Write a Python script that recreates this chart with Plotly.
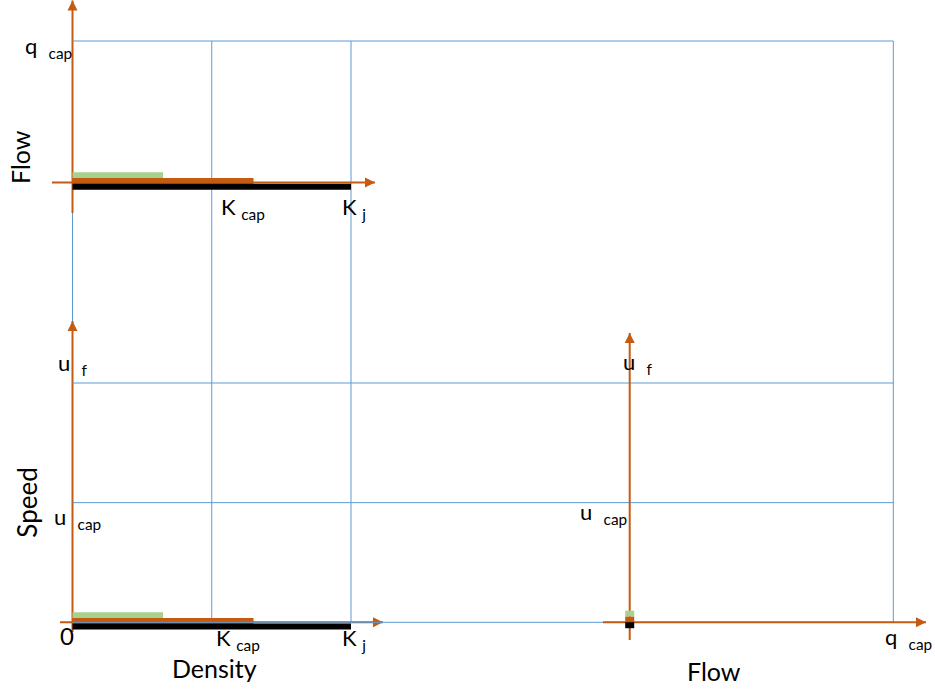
import plotly.graph_objects as go

# ---------------- data (fundamental diagram, normalised units) ----------------
K_j = 1.0          # jam density
K_cap = 0.5        # density at capacity
q_cap = 1.0        # capacity flow
u_f = 1.0          # free-flow speed
u_cap = 0.5        # speed at capacity

bar_colors = ["#A9D18E", "#C55A11", "#000000"]          # green, orange, black
bar_density_len = [0.325, 0.65, 1.0]                     # lengths along density axis
bar_flow_len = [0.0, 0.0, 0.0]                           # lengths along flow axis (right panel)

# ---------------- layout (pixel geometry of the three panels) ----------------
W, H = 935, 691
DENS_X0, DENS_S = 72.5, 278.5      # density axis: origin px, px per unit
FLOWV_Y0, FLOWV_S = 182.5, 141.5   # vertical flow axis (top-left panel)
SPEED_Y0, SPEED_S = 622.3, 239.3   # speed axis (bottom panels)
FLOWH_X0, FLOWH_S = 629.7, 263.6   # horizontal flow axis (bottom-right panel)

BLUE = "#5B9BD5"
ORANGE = "#C55A11"
FONT = "Lato"


def px_dens(v): return DENS_X0 + v * DENS_S
def dens_px(p): return (p - DENS_X0) / DENS_S
def py_flow(v): return FLOWV_Y0 - v * FLOWV_S
def flow_py(p): return (FLOWV_Y0 - p) / FLOWV_S
def py_speed(v): return SPEED_Y0 - v * SPEED_S
def speed_py(p): return (SPEED_Y0 - p) / SPEED_S
def px_flowh(v): return FLOWH_X0 + v * FLOWH_S
def flowh_px(p): return (p - FLOWH_X0) / FLOWH_S


fig = go.Figure()


def line(xs, ys, xa, ya, color, width):
    fig.add_trace(go.Scatter(x=xs, y=ys, xaxis=xa, yaxis=ya, mode="lines",
                             line=dict(color=color, width=width),
                             hoverinfo="skip", showlegend=False))


speed0_in_flow = flow_py(py_speed(0))           # speed origin expressed on flow axis
dens0_in_flowh = flowh_px(px_dens(0))           # density origin expressed on flow-h axis

# ---- blue guide lines ----
for k in [0.0, K_cap, K_j]:
    line([k, k], [q_cap, speed0_in_flow], "x", "y", BLUE, 1)
line([q_cap, q_cap], [q_cap, speed0_in_flow], "x2", "y", BLUE, 1)
line([dens0_in_flowh, q_cap], [q_cap, q_cap], "x2", "y", BLUE, 1)
for s in [u_f, u_cap, 0.0]:
    line([dens0_in_flowh, q_cap], [s, s], "x2", "y2", BLUE, 1)

# ---- orange axes with arrow heads ----
heads = []   # (x, y, xaxis, yaxis, symbol)


def axis_arrow(xs, ys, xa, ya, symbol):
    line(xs, ys, xa, ya, ORANGE, 2)
    heads.append((xs[1], ys[1], xa, ya, symbol))


# top-left: flow vs density
axis_arrow([0, 0], [flow_py(213), flow_py(0.5)], "x", "y", "arrow-up")
axis_arrow([dens_px(52), dens_px(375)], [0, 0], "x", "y", "arrow-right")
# bottom-left: speed vs density
axis_arrow([0, 0], [speed_py(632), speed_py(321)], "x", "y2", "arrow-up")
axis_arrow([dens_px(60), dens_px(383)], [0, 0], "x", "y2", "arrow-right")
# bottom-right: speed vs flow
axis_arrow([0, 0], [speed_py(640), speed_py(333)], "x2", "y2", "arrow-up")
axis_arrow([flowh_px(603), flowh_px(926)], [0, 0], "x2", "y2", "arrow-right")

for hx, hy, xa, ya, sym in heads:
    fig.add_trace(go.Scatter(x=[hx], y=[hy], xaxis=xa, yaxis=ya, mode="markers",
                             marker=dict(symbol=sym, size=10, color=ORANGE,
                                         line=dict(width=0)),
                             hoverinfo="skip", showlegend=False))

# ---- coloured bars ----
tl_offsets = [7.2, 1.5, -4.2]     # px above the axis (style)
bl_offsets = [7.0, 1.3, -4.3]
br_offsets = [8.6, 2.6, -2.9]
for c, L, o in zip(bar_colors, bar_density_len, tl_offsets):
    line([0, L], [flow_py(FLOWV_Y0 - o)] * 2, "x", "y", c, 6)
for c, L, o in zip(bar_colors, bar_density_len, bl_offsets):
    line([0, L], [speed_py(SPEED_Y0 - o)] * 2, "x", "y2", c, 6)
half = 4.5 / FLOWH_S
for c, L, o in zip(bar_colors, bar_flow_len, br_offsets):
    line([-half, L + half], [speed_py(SPEED_Y0 - o)] * 2, "x2", "y2", c, 6)

# ---- labels ----
annotations = []


def label(text, xa, ya, xv, yv, dx, dy, xanchor="left", yanchor="top", angle=0, size=22):
    annotations.append(dict(text=text, xref=xa, yref=ya, x=xv, y=yv, xshift=dx, yshift=-dy,
                            xanchor=xanchor, yanchor=yanchor, showarrow=False, textangle=angle,
                            font=dict(family=FONT, size=size, color="#000000")))


label("q&nbsp; <sub>cap</sub>", "x", "y", 0, q_cap, 1, 6, "right", "middle")
label("Flow", "x", "y", 0, 0, -53, -25, "center", "middle", angle=-90, size=25)
label("K <sub>cap</sub>", "x", "y", K_cap, 0, 7, 8)
label("K <sub>j</sub>", "x", "y", K_j, 0, -11, 8)

label("u&nbsp; <sub>f</sub>", "x", "y2", 0, u_f, -17, -36)
label("u&nbsp; <sub>cap</sub>", "x", "y2", 0, u_cap, -21, -2)
label("Speed", "x", "y2", 0, u_cap, -45.5, 0, "center", "middle", angle=-90, size=26)
label("0", "x", "y2", 0, 0, -15, -3, size=24)
label("K <sub>cap</sub>", "x", "y2", K_cap, 0, 2, 0)
label("K <sub>j</sub>", "x", "y2", K_j, 0, -11, 0)
label("Density", "x", "y2", K_cap, 0, 3, 46, "center", "middle", size=25)

label("u&nbsp; <sub>f</sub>", "x2", "y2", 0, u_f, -9, -37)
label("u&nbsp; <sub>cap</sub>", "x2", "y2", 0, u_cap, -52, -7)
label("q&nbsp; <sub>cap</sub>", "x2", "y2", q_cap, 0, -10, -1)
label("Flow", "x2", "y2", 0, 0, 84, 49, "center", "middle", size=25)


def ax_common(rng):
    return dict(range=rng, domain=[0, 1], visible=False, fixedrange=True)


fig.update_layout(
    width=W, height=H,
    margin=dict(l=0, r=0, t=0, b=0),
    paper_bgcolor="white", plot_bgcolor="white",
    showlegend=False,
    xaxis=ax_common([dens_px(0), dens_px(W)]),
    xaxis2=dict(ax_common([flowh_px(0), flowh_px(W)]), overlaying="x", anchor="y"),
    yaxis=ax_common([flow_py(H), flow_py(0)]),
    yaxis2=dict(ax_common([speed_py(H), speed_py(0)]), overlaying="y", anchor="x"),
    annotations=annotations,
)

fig.write_html("out.html",
               config={"displayModeBar": False},
               post_script="document.body.style.margin='0px';"
                           "document.body.style.overflow='hidden';")
